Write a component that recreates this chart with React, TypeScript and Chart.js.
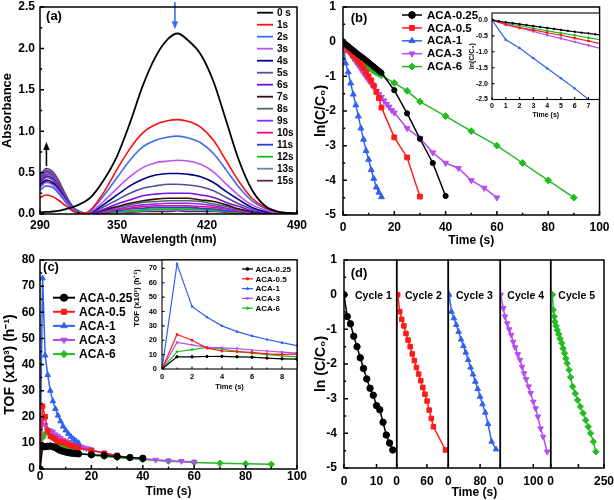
import React, { useEffect, useRef } from "react";
import { Chart, registerables } from "chart.js";
import { drawPoint } from "chart.js/helpers";

Chart.register(...registerables);

const FONT = "'Liberation Sans', Arial, Helvetica, sans-serif";
Chart.defaults.font.family = FONT;

// ================= (a) UV-vis spectra =================
const wavelengths = [290, 295, 300, 305, 310, 315, 320, 325, 330, 340, 350, 360, 370, 380, 390, 397, 405, 415, 425, 435, 445, 455, 465, 475, 490];
const spectrumLabels = ["0 s", "1s", "2s", "3s", "4s", "5s", "6s", "7s", "8s", "9s", "10s", "11s", "12s", "13s", "15s"];
const spectrumColors = ["#000000", "#ff1010", "#3a6cf0", "#c050f0", "#00008f", "#50509a", "#7a10e0", "#3a0818", "#4e6e58", "#8a2cff", "#f00a8c", "#1f45d8", "#10c010", "#6a86b0", "#5a2a5a"];
const abs0s = [0.02, 0.025, 0.03, 0.04, 0.06, 0.08, 0.11, 0.15, 0.21, 0.42, 0.70, 1.10, 1.55, 1.90, 2.12, 2.18, 2.10, 1.93, 1.60, 1.12, 0.64, 0.29, 0.10, 0.03, 0.01];
const abs1s = [0.20, 0.23, 0.21, 0.16, 0.10, 0.04, 0.01, 0.01, 0.06, 0.27, 0.54, 0.79, 0.98, 1.08, 1.13, 1.14, 1.12, 1.05, 0.89, 0.64, 0.39, 0.19, 0.08, 0.02, 0];
const abs2s = [0.29, 0.34, 0.32, 0.24, 0.14, 0.06, 0.02, 0.01, 0.05, 0.23, 0.44, 0.65, 0.81, 0.89, 0.93, 0.94, 0.92, 0.86, 0.73, 0.53, 0.32, 0.16, 0.07, 0.02, 0];
const abs3s = [0.32, 0.38, 0.35, 0.27, 0.16, 0.07, 0.02, 0.01, 0.03, 0.16, 0.31, 0.45, 0.56, 0.62, 0.64, 0.65, 0.64, 0.60, 0.51, 0.36, 0.22, 0.11, 0.05, 0.01, 0];
const abs4s = [0.35, 0.41, 0.38, 0.29, 0.17, 0.07, 0.02, 0.01, 0.02, 0.12, 0.23, 0.34, 0.42, 0.47, 0.49, 0.49, 0.48, 0.45, 0.38, 0.27, 0.17, 0.08, 0.03, 0.01, 0];
const abs5s = [0.37, 0.44, 0.41, 0.31, 0.18, 0.08, 0.03, 0.01, 0.02, 0.09, 0.17, 0.25, 0.31, 0.34, 0.36, 0.36, 0.35, 0.33, 0.28, 0.20, 0.12, 0.06, 0.03, 0.01, 0];
const abs6s = [0.39, 0.46, 0.43, 0.32, 0.19, 0.08, 0.03, 0.01, 0.01, 0.06, 0.12, 0.17, 0.22, 0.24, 0.25, 0.25, 0.25, 0.23, 0.20, 0.14, 0.09, 0.04, 0.02, 0.01, 0];
const abs7s = [0.33, 0.39, 0.36, 0.27, 0.16, 0.07, 0.02, 0.01, 0.01, 0.05, 0.09, 0.13, 0.16, 0.18, 0.19, 0.19, 0.19, 0.17, 0.15, 0.11, 0.06, 0.03, 0.01, 0, 0];
const abs8s = [0.41, 0.48, 0.45, 0.34, 0.20, 0.09, 0.03, 0.01, 0.01, 0.04, 0.08, 0.11, 0.14, 0.15, 0.16, 0.16, 0.16, 0.15, 0.12, 0.09, 0.05, 0.03, 0.01, 0, 0];
const abs9s = [0.42, 0.50, 0.46, 0.35, 0.21, 0.09, 0.03, 0.01, 0.01, 0.03, 0.06, 0.09, 0.11, 0.12, 0.13, 0.13, 0.13, 0.12, 0.10, 0.07, 0.04, 0.02, 0.01, 0, 0];
const abs10s = [0.43, 0.51, 0.47, 0.36, 0.21, 0.09, 0.03, 0.01, 0.01, 0.02, 0.05, 0.07, 0.09, 0.10, 0.10, 0.10, 0.10, 0.09, 0.08, 0.06, 0.03, 0.02, 0.01, 0, 0];
const abs11s = [0.44, 0.52, 0.48, 0.36, 0.22, 0.09, 0.03, 0.01, 0, 0.02, 0.04, 0.06, 0.07, 0.08, 0.08, 0.08, 0.08, 0.07, 0.06, 0.04, 0.03, 0.01, 0.01, 0, 0];
const abs12s = [0.38, 0.45, 0.42, 0.32, 0.19, 0.08, 0.03, 0.01, 0, 0.01, 0.03, 0.04, 0.05, 0.06, 0.06, 0.06, 0.06, 0.06, 0.05, 0.03, 0.02, 0.01, 0, 0, 0];
const abs13s = [0.45, 0.53, 0.49, 0.37, 0.22, 0.10, 0.03, 0.01, 0, 0.01, 0.02, 0.03, 0.04, 0.05, 0.05, 0.05, 0.05, 0.05, 0.04, 0.03, 0.02, 0.01, 0, 0, 0];
const abs15s = [0.47, 0.55, 0.51, 0.39, 0.23, 0.10, 0.03, 0.01, 0, 0.01, 0.02, 0.02, 0.03, 0.03, 0.03, 0.04, 0.03, 0.03, 0.03, 0.02, 0.01, 0.01, 0, 0, 0];
const spectra = [abs0s, abs1s, abs2s, abs3s, abs4s, abs5s, abs6s, abs7s, abs8s, abs9s, abs10s, abs11s, abs12s, abs13s, abs15s];
const wavelengthTicks = [290, 350, 420, 490];
const absorbanceTicks = [0, 0.5, 1, 1.5, 2, 2.5];

// ================= shared series info =================
const seriesNames = ["ACA-0.25", "ACA-0.5", "ACA-1", "ACA-3", "ACA-6"];
const seriesColors = ["#000000", "#ff1a1a", "#2f62f2", "#b54cf0", "#22bb22"];
const seriesMarkers = ["circle", "rect", "triangle", "triangle", "rectRot"];
const seriesRotation = [0, 0, 0, 180, 0];

// ================= (b) ln(C/C0) vs time =================
const tB025 = [0, 0.5, 1, 1.5, 2, 2.5, 3, 3.5, 4, 4.5, 5, 5.5, 6, 6.5, 7, 7.5, 8, 8.5, 9, 9.5, 10, 10.5, 11, 11.5, 12, 12.5, 13, 13.5, 14, 14.5, 15, 20, 25, 30, 35, 40];
const lnB025 = [0, -0.04, -0.07, -0.10, -0.13, -0.16, -0.19, -0.22, -0.25, -0.28, -0.31, -0.34, -0.37, -0.40, -0.42, -0.45, -0.48, -0.51, -0.54, -0.57, -0.60, -0.63, -0.66, -0.69, -0.72, -0.75, -0.78, -0.81, -0.84, -0.87, -0.90, -1.40, -2.07, -2.80, -3.50, -4.45];
const tB05 = [0, 1, 2, 3, 4, 5, 6, 7, 8, 9, 10, 11, 12, 13, 14, 15, 20, 25, 30];
const lnB05 = [0, -0.15, -0.25, -0.31, -0.40, -0.48, -0.57, -0.66, -0.76, -0.88, -1.00, -1.12, -1.27, -1.45, -1.63, -1.90, -2.76, -3.34, -4.47];
const tB1 = [0, 1, 2, 3, 4, 5, 6, 7, 8, 9, 10, 11, 12, 13, 14, 15];
const lnB1 = [0, -0.62, -0.88, -1.20, -1.52, -1.83, -2.15, -2.50, -2.82, -3.15, -3.40, -3.70, -3.95, -4.20, -4.35, -4.48];
const tB3 = [0, 1, 2, 3, 4, 5, 6, 7, 8, 9, 10, 11, 12, 13, 14, 15, 16, 17, 18, 19, 20, 25, 30, 35, 40, 45, 50, 55, 60];
const lnB3 = [0, -0.12, -0.24, -0.36, -0.48, -0.58, -0.69, -0.80, -0.91, -1.02, -1.12, -1.22, -1.30, -1.42, -1.52, -1.60, -1.70, -1.80, -1.88, -1.98, -2.05, -2.50, -2.78, -3.20, -3.50, -3.65, -4.00, -4.22, -4.50];
const tB6 = [0, 1, 2, 3, 4, 5, 6, 7, 8, 9, 10, 11, 12, 13, 14, 15, 20, 25, 30, 40, 50, 60, 70, 80, 90];
const lnB6 = [0, -0.10, -0.18, -0.26, -0.34, -0.41, -0.48, -0.56, -0.63, -0.69, -0.75, -0.80, -0.85, -0.89, -0.93, -0.97, -1.19, -1.42, -1.73, -2.15, -2.58, -3.00, -3.50, -4.00, -4.50];
const timeTicksB = [0, 20, 40, 60, 80, 100];
const lnTicksB = [-5, -4, -3, -2, -1, 0, 1];
const insetTimeTicksB = [0, 1, 2, 3, 4, 5, 6, 7];
const insetLnTicksB = [0, -0.5, -1, -1.5, -2, -2.5];

// ================= (c) TOF vs time =================
const tC025 = [0, 1, 2, 3, 4, 5, 6, 7, 8, 9, 10, 11, 12, 13, 14, 15, 20, 25, 30, 35, 40];
const tofC025 = [0, 8.5, 8.5, 8.7, 8.8, 8.5, 8.2, 7.6, 7.1, 6.8, 6.5, 6.3, 6.1, 6.0, 5.9, 5.8, 5.5, 5.2, 4.8, 4.4, 4.1];
const tC05 = [0, 1, 2, 3, 4, 5, 6, 7, 8, 9, 10, 11, 12, 13, 14, 15, 20, 25, 30];
const tofC05 = [0, 24, 20, 14.5, 12.5, 12, 11.5, 10.5, 10.2, 10.3, 9.8, 9.3, 9.0, 8.7, 8.4, 8.1, 7.1, 6.0, 5.2];
const tC1 = [0, 1, 2, 3, 4, 5, 6, 7, 8, 9, 10, 11, 12, 13, 14, 15];
const tofC1 = [0, 73, 43.5, 36, 30, 26, 23, 20.5, 18.3, 16.3, 14.8, 13.5, 12.4, 11.5, 10.7, 10.0];
const tC3 = [0, 1, 2, 3, 4, 5, 6, 7, 8, 9, 10, 11, 12, 13, 14, 15, 16, 17, 18, 19, 20, 25, 30, 35, 40, 45, 50, 55, 60];
const tofC3 = [0, 18.5, 16.8, 15, 14.7, 14.2, 13.2, 12.5, 11.8, 11, 10.6, 10.2, 9.8, 9.4, 9.1, 8.8, 8.5, 8.2, 7.9, 7.7, 7.4, 6.1, 5.1, 4.4, 3.9, 3.5, 3.2, 3.0, 2.7];
const tC6 = [0, 1, 2, 3, 4, 5, 6, 7, 8, 9, 10, 11, 12, 13, 14, 15, 20, 25, 30, 40, 50, 60, 70, 80, 90];
const tofC6 = [0, 12, 13.5, 15, 13.8, 12.2, 11, 9.9, 9.1, 8.4, 7.8, 7.3, 6.9, 6.6, 6.3, 6.0, 5.3, 4.8, 4.3, 3.6, 3.0, 2.5, 2.2, 2.0, 1.8];
const timeTicksC = [0, 20, 40, 60, 80, 100];
const tofTicksC = [0, 10, 20, 30, 40, 50, 60, 70, 80];
const insetTimeTicksC = [0, 2, 4, 6, 8];
const insetTofTicksC = [0, 10, 20, 30, 40, 50, 60, 70];

// ================= (d) recycling =================
const cycleNames = ["Cycle 1", "Cycle 2", "Cycle 3", "Cycle 4", "Cycle 5"];
const tD1 = [0, 1, 2, 3, 4, 5, 6, 7, 8, 9, 10, 11, 12, 13, 14, 15];
const lnD1 = [0, -0.63, -0.84, -1.20, -1.50, -1.82, -2.13, -2.43, -2.70, -2.90, -3.20, -3.32, -3.68, -4.05, -4.28, -4.48];
const tD2 = [2, 6, 10, 14.2, 18.4, 22.6, 26.8, 31, 35.2, 39.4, 43.6, 47.8, 52, 56.2, 60.4, 64.6, 68.8, 73, 97];
const lnD2 = [0, -0.49, -0.71, -0.90, -1.12, -1.31, -1.50, -1.71, -1.90, -2.10, -2.29, -2.48, -2.68, -2.87, -3.07, -3.33, -3.57, -3.81, -4.48];
const tD3 = [2, 8, 14, 20, 26, 32, 38, 44, 50, 56, 62, 68, 74, 80, 86, 93, 100, 109, 120];
const lnD3 = [0, -0.49, -0.68, -0.87, -1.07, -1.29, -1.48, -1.67, -1.88, -2.10, -2.30, -2.51, -2.72, -2.94, -3.16, -3.40, -3.73, -4.24, -4.46];
const tD4 = [1, 9, 14, 21, 27, 33, 39, 45, 53, 60, 66, 72, 78, 86, 92, 100, 107, 114, 122, 130, 142];
const lnD4 = [0, -0.39, -0.63, -0.83, -1.00, -1.16, -1.36, -1.52, -1.72, -1.88, -2.08, -2.27, -2.44, -2.65, -2.84, -3.09, -3.28, -3.52, -3.86, -4.10, -4.53];
const tD5 = [8, 12, 16, 20, 25, 31, 38, 44, 52, 58, 65, 71, 77, 86, 93, 103, 115, 126, 139, 152, 164, 176, 187, 200, 212];
const lnD5 = [0, -0.44, -0.63, -0.78, -0.90, -1.02, -1.14, -1.27, -1.40, -1.55, -1.69, -1.84, -1.98, -2.17, -2.38, -2.65, -2.85, -3.04, -3.23, -3.42, -3.62, -3.81, -4.00, -4.24, -4.53];
const cycleTimeMax = [16.2, 102.6, 130.8, 152.7, 250];
const cycleTimeTicks = [[0, 10], [0, 60], [0, 80], [0, 100], [0, 130, 250]];
const cycleHiddenTicks = [[], [], [], [], [130]];
const lnTicksD = [-5, -4, -3, -2, -1, 0, 1];

// ================= helpers =================
type Rect = { x: number; y: number; w: number; h: number };
type Box = { l: number; t: number; r: number; b: number };

function pts(xs: number[], ys: number[]) {
  return xs.map((x, i) => ({ x, y: ys[i] }));
}

function series(i: number, xs: number[], ys: number[], extra: any = {}) {
  const c = seriesColors[i];
  return {
    label: seriesNames[i],
    data: pts(xs, ys),
    borderColor: c,
    backgroundColor: c,
    pointBackgroundColor: c,
    pointBorderColor: c,
    borderWidth: 1.5,
    pointRadius: 3.2,
    pointBorderWidth: 1,
    pointStyle: seriesMarkers[i],
    pointRotation: seriesRotation[i],
    tension: 0,
    ...extra,
  };
}

const mids = (v: number[]) => v.slice(1).map((x, i) => (x + v[i]) / 2);

const decorPlugin = {
  id: "decor",
  beforeDraw(chart: any, _a: any, o: any) {
    if (!o || !o.fill) return;
    const a = chart.chartArea;
    const ctx = chart.ctx;
    ctx.save();
    ctx.fillStyle = o.fill;
    ctx.fillRect(a.left, a.top, a.right - a.left, a.bottom - a.top);
    ctx.restore();
  },
  afterDraw(chart: any, _a: any, o: any) {
    const ctx = chart.ctx;
    const a = chart.chartArea;
    const ox = o.ox || 0;
    const oy = o.oy || 0;
    const xs = chart.scales.x;
    const ys = chart.scales.y;
    ctx.save();
    (o.arrows || []).forEach((A: any) => {
      const px = xs.getPixelForValue(A.x);
      const p1 = ys.getPixelForValue(A.y1);
      const p2 = ys.getPixelForValue(A.y2);
      const dir = Math.sign(p2 - p1);
      ctx.strokeStyle = A.color;
      ctx.fillStyle = A.color;
      ctx.lineWidth = 1.6;
      ctx.beginPath();
      ctx.moveTo(px, p1);
      ctx.lineTo(px, p2 - dir * 5);
      ctx.stroke();
      ctx.beginPath();
      ctx.moveTo(px, p2);
      ctx.lineTo(px - 3.2, p2 - dir * 8);
      ctx.lineTo(px + 3.2, p2 - dir * 8);
      ctx.closePath();
      ctx.fill();
    });
    ctx.strokeStyle = "#000";
    ctx.lineWidth = o.lw || 1.5;
    const maj = o.major || 4;
    const mnr = o.minor || 2.2;
    const xv = xs.ticks.map((t: any) => t.value);
    ctx.beginPath();
    xv.forEach((v: number) => {
      const p = xs.getPixelForValue(v);
      ctx.moveTo(p, a.bottom);
      ctx.lineTo(p, a.bottom - maj);
    });
    if (o.minorX) {
      mids(xv).forEach((v: number) => {
        const p = xs.getPixelForValue(v);
        ctx.moveTo(p, a.bottom);
        ctx.lineTo(p, a.bottom - mnr);
      });
    }
    if (o.yTicks !== false) {
      const yv = ys.ticks.map((t: any) => t.value);
      yv.forEach((v: number) => {
        const p = ys.getPixelForValue(v);
        ctx.moveTo(a.left, p);
        ctx.lineTo(a.left + maj, p);
      });
      if (o.minorY) {
        mids(yv).forEach((v: number) => {
          const p = ys.getPixelForValue(v);
          ctx.moveTo(a.left, p);
          ctx.lineTo(a.left + mnr, p);
        });
      }
    }
    ctx.stroke();
    ctx.strokeRect(a.left, a.top, a.right - a.left, a.bottom - a.top);
    const L = o.legend;
    if (L) {
      chart.data.datasets.forEach((ds: any, i: number) => {
        const y = L.y0 + i * L.dy - oy;
        const x1 = L.x1 - ox;
        const x2 = L.x2 - ox;
        ctx.strokeStyle = ds.borderColor;
        ctx.lineWidth = L.lw || 1.5;
        ctx.beginPath();
        ctx.moveTo(x1, y);
        ctx.lineTo(x2, y);
        ctx.stroke();
        if (L.markers) {
          ctx.fillStyle = ds.borderColor;
          ctx.lineWidth = 1;
          drawPoint(ctx, { pointStyle: ds.pointStyle, rotation: ds.pointRotation || 0, radius: L.r, borderWidth: 1 } as any, (x1 + x2) / 2, y);
        }
        ctx.fillStyle = "#000";
        ctx.font = `bold ${L.size}px ${FONT}`;
        ctx.textAlign = "left";
        ctx.textBaseline = "middle";
        ctx.fillText(ds.label, L.tx - ox, y + 0.5);
      });
    }
    (o.texts || []).forEach((T: any) => {
      ctx.save();
      ctx.translate(T.x - ox, T.y - oy);
      if (T.rot) ctx.rotate(T.rot);
      ctx.font = `bold ${T.size}px ${FONT}`;
      ctx.fillStyle = T.color || "#000";
      ctx.textAlign = T.align || "center";
      ctx.textBaseline = "middle";
      ctx.fillText(T.text, 0, 0);
      ctx.restore();
    });
    ctx.restore();
  },
};

function makeScale(axis: "x" | "y", s: any, rect: Rect, area: Box, hidden = false) {
  const isX = axis === "x";
  const fixed = hidden ? 0 : isX ? rect.y + rect.h - area.b : area.l - rect.x;
  const tickPad = isX ? s.labelAt - area.b - s.size * 0.6 : area.l - s.labelAt;
  const titlePad = s.title
    ? isX
      ? rect.y + rect.h - s.titleAt - s.titleSize * 0.6
      : s.titleAt - rect.x - s.titleSize * 0.6
    : 0;
  const fmt = s.fmt || ((v: number) => String(v));
  const hide: number[] = s.hide || [];
  return {
    type: "linear",
    display: !hidden,
    min: s.min,
    max: s.max,
    afterBuildTicks: (sc: any) => {
      sc.ticks = s.ticks.map((v: number) => ({ value: v }));
    },
    afterFit: (sc: any) => {
      if (isX) {
        sc.height = fixed;
        sc.paddingLeft = 0;
        sc.paddingRight = 0;
      } else {
        sc.width = fixed;
        sc.paddingTop = 0;
        sc.paddingBottom = 0;
      }
    },
    grid: { display: false, drawTicks: false },
    border: { display: false },
    ticks: {
      autoSkip: false,
      maxRotation: 0,
      minRotation: 0,
      padding: tickPad,
      color: "#000",
      font: { family: FONT, size: s.size, weight: "bold" },
      callback: (v: number) => (hide.includes(v) ? "" : fmt(v)),
    },
    title: s.title
      ? {
          display: true,
          text: s.title,
          color: "#000",
          font: { family: FONT, size: s.titleSize, weight: "bold" },
          padding: isX ? { top: 0, bottom: titlePad } : { top: titlePad, bottom: 0 },
        }
      : { display: false },
  };
}

function makeConfig(p: { rect: Rect; area: Box; datasets: any[]; x: any; y: any; decor: any; yHidden?: boolean }) {
  const { rect, area } = p;
  const left = area.l - rect.x;
  const top = area.t - rect.y;
  const right = rect.x + rect.w - area.r;
  return {
    type: "line",
    data: { datasets: p.datasets },
    plugins: [decorPlugin],
    options: {
      responsive: false,
      maintainAspectRatio: false,
      animation: false,
      devicePixelRatio: 1,
      events: [],
      layout: { autoPadding: false, padding: { left: p.yHidden ? left : 0, top, right, bottom: 0 } },
      plugins: {
        legend: { display: false },
        tooltip: { enabled: false },
        decor: { ox: rect.x, oy: rect.y, ...p.decor },
      },
      scales: {
        x: makeScale("x", p.x, rect, area),
        y: makeScale("y", p.y, rect, area, !!p.yHidden),
      },
    },
  };
}

// ================= chart definitions =================
const fmt1 = (v: number) => v.toFixed(1);

const rectA = { x: 0, y: 0, w: 312, h: 250 };
const rectB = { x: 302, y: 0, w: 312, h: 250 };
const rectBInset = { x: 462, y: 8, w: 140, h: 114 };
const rectC = { x: 0, y: 250, w: 312, h: 250 };
const rectCInset = { x: 128, y: 255, w: 172, h: 140 };

function configA() {
  const area = { l: 40, t: 7, r: 297, b: 214 };
  const datasets = spectra.map((ys, i) => ({
    label: spectrumLabels[i],
    data: pts(wavelengths, ys),
    borderColor: spectrumColors[i],
    backgroundColor: spectrumColors[i],
    borderWidth: i === 0 ? 1.8 : 1.6,
    pointRadius: 0,
    cubicInterpolationMode: "monotone",
  }));
  return makeConfig({
    rect: rectA,
    area,
    datasets,
    x: { min: 290, max: 490, ticks: wavelengthTicks, size: 12, labelAt: 226, title: "Wavelength (nm)", titleSize: 12, titleAt: 239.5 },
    y: { min: 0, max: 2.5, ticks: absorbanceTicks, fmt: fmt1, size: 12, labelAt: 35, title: "Absorbance", titleSize: 13, titleAt: 7.5 },
    decor: {
      minorX: true,
      minorY: true,
      legend: { x1: 257, x2: 273, tx: 277, y0: 12.7, dy: 12.0, size: 10, lw: 1.8 },
      texts: [{ text: "(a)", x: 54, y: 16.7, size: 13 }],
      arrows: [
        { x: 395, y1: 2.56, y2: 2.23, color: "#3a6cf0" },
        { x: 295, y1: 0.58, y2: 0.87, color: "#000000" },
      ],
    },
  });
}

function configB() {
  const area = { l: 343, t: 7, r: 599.5, b: 215 };
  const datasets = [
    series(0, tB025, lnB025, { pointRadius: 2.6 }),
    series(1, tB05, lnB05, { pointRadius: 3.4 }),
    series(2, tB1, lnB1, { pointRadius: 3.4 }),
    series(3, tB3, lnB3, { pointRadius: 3.4 }),
    series(4, tB6, lnB6, { pointRadius: 3.4 }),
  ];
  return makeConfig({
    rect: rectB,
    area,
    datasets,
    x: { min: 0, max: 100, ticks: timeTicksB, size: 12, labelAt: 227.5, title: "Time (s)", titleSize: 12, titleAt: 240.5 },
    y: { min: -5, max: 1, ticks: lnTicksB, size: 12, labelAt: 336, title: "ln(C/C\u2080)", titleSize: 14, titleAt: 321.5 },
    decor: {
      minorX: true,
      minorY: true,
      legend: { x1: 402, x2: 422, tx: 427, y0: 15, dy: 12.9, size: 11.5, markers: true, r: 3.4 },
      texts: [{ text: "(b)", x: 359, y: 18, size: 13 }],
    },
  });
}

function configBInset() {
  const area = { l: 492, t: 13, r: 599.5, b: 99.5 };
  const small = { borderWidth: 1.2, pointRadius: 1.2 };
  const datasets = [
    series(0, tB025, lnB025, { ...small, pointRadius: 0.8 }),
    series(1, tB05, lnB05, small),
    series(2, tB1, lnB1, small),
    series(3, tB3, lnB3, small),
    series(4, tB6, lnB6, small),
  ];
  return makeConfig({
    rect: rectBInset,
    area,
    datasets,
    x: { min: 0, max: 7.8, ticks: insetTimeTicksB, size: 7, labelAt: 105.7, title: "Time (s)", titleSize: 7, titleAt: 115 },
    y: { min: -2.5, max: 0.22, ticks: insetLnTicksB, fmt: fmt1, size: 7, labelAt: 488, title: "ln(C/C\u2080)", titleSize: 7, titleAt: 472.5 },
    decor: { fill: "#ffffff", lw: 1.1, major: 2.5 },
  });
}

function configC() {
  const area = { l: 40, t: 260, r: 297, b: 469 };
  const datasets = [
    series(0, tC025, tofC025),
    series(1, tC05, tofC05),
    series(2, tC1, tofC1),
    series(3, tC3, tofC3),
    series(4, tC6, tofC6),
  ];
  return makeConfig({
    rect: rectC,
    area,
    datasets,
    x: { min: 0, max: 100, ticks: timeTicksC, size: 12, labelAt: 477, title: "Time (s)", titleSize: 12, titleAt: 492 },
    y: { min: 0, max: 80, ticks: tofTicksC, size: 12, labelAt: 35, title: "TOF (x10\u00b3) (h\u207b\u00b9)", titleSize: 14, titleAt: 10 },
    decor: {
      minorX: true,
      minorY: true,
      legend: { x1: 53, x2: 75, tx: 79, y0: 297.7, dy: 14.1, size: 12, markers: true, r: 3.6, lw: 2 },
      texts: [{ text: "(c)", x: 51, y: 267, size: 13 }],
    },
  });
}

function configCInset() {
  const area = { l: 162, t: 260, r: 297, b: 369 };
  const small = { borderWidth: 1.2, pointRadius: 1.2 };
  const datasets = [
    series(0, tC025, tofC025, small),
    series(1, tC05, tofC05, small),
    series(2, tC1, tofC1, small),
    series(3, tC3, tofC3, small),
    series(4, tC6, tofC6, small),
  ];
  return makeConfig({
    rect: rectCInset,
    area,
    datasets,
    x: { min: 0, max: 9, ticks: insetTimeTicksC, size: 7.5, labelAt: 377.3, title: "Time (s)", titleSize: 7.5, titleAt: 386.5 },
    y: { min: 0, max: 75.8, ticks: insetTofTicksC, size: 7.5, labelAt: 157 },
    decor: {
      fill: "#ffffff",
      lw: 1.1,
      major: 2.5,
      minor: 1.5,
      minorX: true,
      legend: { x1: 242, x2: 253, tx: 255.5, y0: 269, dy: 9.8, size: 8, markers: true, r: 1.4, lw: 1.3 },
      texts: [{ text: "TOF (x10\u00b3) (h\u207b\u00b9)", x: 137, y: 298, size: 8, rot: -Math.PI / 2 }],
    },
  });
}

const cycleBounds = [344, 396.7, 448.3, 500.3, 550.7, 604];
const cycleData = [
  [tD1, lnD1],
  [tD2, lnD2],
  [tD3, lnD3],
  [tD4, lnD4],
  [tD5, lnD5],
];
const cycleLabelLeft = [355, 405, 456, 507.3, 558.3];

function cycleRect(i: number): Rect {
  const l = cycleBounds[i];
  const r = cycleBounds[i + 1];
  const x0 = i === 0 ? 302 : Math.floor(l - 7);
  const x1 = i === 4 ? 614 : Math.ceil(r + 3);
  return { x: x0, y: 250, w: x1 - x0, h: 250 };
}

function configD(i: number) {
  const l = cycleBounds[i];
  const r = cycleBounds[i + 1];
  const rect = cycleRect(i);
  const area = { l, t: 260, r, b: 468 };
  const [ts, vs] = cycleData[i];
  const datasets = [series(i, ts, vs, { label: cycleNames[i], pointRadius: 3.2 })];
  const texts: any[] = [{ text: cycleNames[i], x: cycleLabelLeft[i], y: 296, size: 10.5, align: "left" }];
  if (i === 0) texts.push({ text: "(d)", x: 359, y: 273, size: 13 });
  return makeConfig({
    rect,
    area,
    datasets,
    yHidden: i !== 0,
    x: {
      min: 0,
      max: cycleTimeMax[i],
      ticks: cycleTimeTicks[i],
      hide: cycleHiddenTicks[i],
      size: 12,
      labelAt: 481.3,
      ...(i === 2 ? { title: "Time (s)", titleSize: 12, titleAt: 492.5 } : {}),
    },
    y: i === 0
      ? { min: -5, max: 1, ticks: lnTicksD, size: 12, labelAt: 337, title: "ln (C/C\u2080)", titleSize: 14, titleAt: 320.8 }
      : { min: -5, max: 1, ticks: lnTicksD, size: 12, labelAt: l - 5 },
    decor: { minorY: true, yTicks: i === 0, texts },
  });
}

// ================= React =================
function ChartCanvas({ rect, make }: { rect: Rect; make: () => any }) {
  const ref = useRef<HTMLCanvasElement | null>(null);
  useEffect(() => {
    const chart = new Chart(ref.current as HTMLCanvasElement, make() as any);
    return () => chart.destroy();
  }, []);
  return (
    <canvas
      ref={ref}
      width={rect.w}
      height={rect.h}
      style={{ position: "absolute", left: rect.x, top: rect.y, width: rect.w, height: rect.h }}
    />
  );
}

export default function App() {
  const panels: { rect: Rect; make: () => any }[] = [
    { rect: rectA, make: configA },
    { rect: rectB, make: configB },
    { rect: rectBInset, make: configBInset },
    { rect: rectC, make: configC },
    { rect: rectCInset, make: configCInset },
  ];
  for (let i = 0; i < 5; i++) {
    panels.push({ rect: cycleRect(i), make: () => configD(i) });
  }
  return (
    <div style={{ position: "absolute", left: 0, top: 0, width: 614, height: 500, background: "#ffffff", overflow: "hidden" }}>
      {panels.map((p, k) => (
        <ChartCanvas key={k} rect={p.rect} make={p.make} />
      ))}
    </div>
  );
}
